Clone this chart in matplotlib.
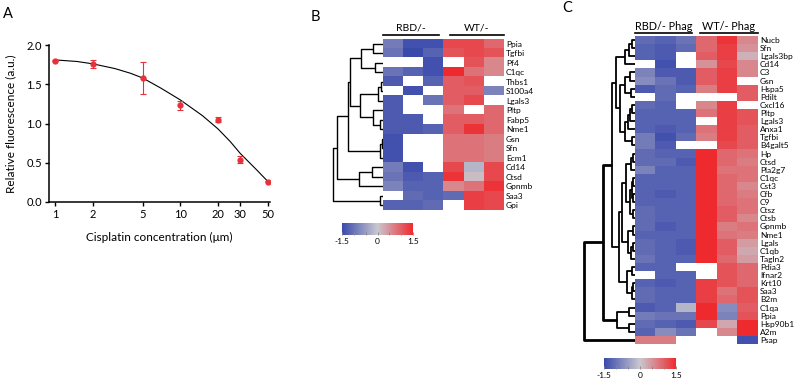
import numpy as np
import matplotlib
matplotlib.use("Agg")
import matplotlib.pyplot as plt
from matplotlib.colors import LinearSegmentedColormap

plt.rcParams["font.family"] = ["Lato", "DejaVu Sans"]

W, H = 794, 380
nan = np.nan

# ---- panel A: dose response ----
conc = [1, 2, 5, 10, 20, 30, 50]
fluor = [1.80, 1.76, 1.58, 1.23, 1.05, 0.54, 0.26]
fluor_err = [0.01, 0.05, 0.20, 0.06, 0.03, 0.04, 0.01]
# fitted curve
fit_x = [1, 1.5, 2, 3, 4, 5, 7, 10, 15, 20, 25, 30, 40, 50]
fit_y = [1.81, 1.79, 1.76, 1.70, 1.64, 1.58, 1.45, 1.30, 1.10, 0.93, 0.77, 0.62, 0.42, 0.26]
conc_ticks = [1, 2, 5, 10, 20, 30, 50]

# ---- panel B heatmap ----
genes_b = ["Ppia", "Tgfbi", "Pf4", "C1qc", "Thbs1", "S100a4", "Lgals3", "Pltp", "Fabp5",
           "Nme1", "Gsn", "Sfn", "Ecm1", "Cd14", "Ctsd", "Gpnmb", "Saa3", "Gpi"]
vals_b = [
    [-0.9, -1.4, -1.4, 1.2, 1.2, 0.9],
    [-1.0, -1.5, -1.2, 1.1, 1.2, 1.1],
    [nan, nan, -1.4, nan, 1.1, 0.6],
    [-1.0, -1.2, -1.4, 1.5, 0.8, 0.6],
    [-1.3, nan, -1.2, 1.0, 1.1, nan],
    [nan, -1.4, nan, 1.0, 1.0, -0.8],
    [-1.3, nan, -1.0, 1.0, 1.2, nan],
    [-1.3, nan, nan, 0.8, nan, 0.9],
    [-1.3, -1.3, nan, 1.0, 1.0, 0.9],
    [-1.3, -1.3, -1.2, 1.0, 1.4, 0.9],
    [-1.4, nan, nan, 0.8, 0.8, 0.7],
    [-1.4, nan, nan, 0.8, 0.8, 0.7],
    [-1.4, nan, nan, 0.8, 0.8, 0.7],
    [-0.9, -1.4, nan, 1.2, -0.2, 1.2],
    [-1.0, -1.3, -1.2, 1.4, 0.1, 1.2],
    [-0.8, -1.2, -1.2, 0.6, 0.8, 1.4],
    [nan, -1.1, -1.2, -1.1, 1.3, 1.2],
    [-1.2, -1.2, -1.1, nan, 1.3, 1.2],
]
# linkage rows: (child a, child b, height); leaves are 0..n-1
tree_b = [
    (0, 1, 0.20), (2, 3, 0.16), (18, 19, 0.44),
    (4, 5, 0.05), (21, 6, 0.10), (8, 9, 0.06), (7, 23, 0.20), (22, 24, 0.46),
    (20, 25, 0.66), (10, 11, 0.03), (27, 12, 0.06), (26, 28, 0.70),
    (13, 14, 0.22), (30, 15, 0.48), (29, 31, 0.92), (16, 17, 0.06), (32, 33, 1.0),
]

# ---- panel C heatmap ----
genes_c = ["Nucb", "Sfn", "Lgals3bp", "Cd14", "C3", "Gsn", "Hspa5", "Pdilt", "Cxcl16",
           "Pltp", "Lgals3", "Anxa1", "Tgfbi", "B4galt5", "Hp", "Ctsd", "Pla2g7", "C1qc",
           "Cst3", "Cfb", "C9", "Ctsz", "Ctsb", "Gpnmb", "Nme1", "Lgals", "C1qb", "Tagln2",
           "Pdia3", "Ifnar2", "Krt10", "Saa3", "B2m", "C1qa", "Ppia", "Hsp90b1", "A2m", "Psap"]
vals_c = [
    [-1.1, -1.2, -1.0, 0.9, 1.4, 0.6],
    [-1.2, -1.3, -1.1, 0.9, 1.3, 0.5],
    [-1.2, -1.3, nan, 1.0, 1.3, 0.2],
    [nan, -1.4, nan, 0.5, 1.2, 0.6],
    [-0.8, -1.3, -1.3, 1.0, 1.3, 0.6],
    [-0.7, -1.0, -1.3, 1.0, 1.3, nan],
    [-1.3, -1.1, -1.2, 0.7, 1.3, 1.0],
    [nan, -1.1, nan, nan, nan, 1.0],
    [-1.1, -1.2, nan, 0.6, 1.3, nan],
    [-1.2, -1.2, -1.2, 0.8, 1.3, 1.1],
    [-1.2, -1.2, -1.2, nan, 1.3, 1.1],
    [-1.2, -1.3, -1.2, 0.8, 1.3, 1.0],
    [-0.9, -1.4, -1.1, 0.7, 1.3, 1.0],
    [-0.9, -1.3, nan, nan, 1.2, 1.0],
    [-1.1, -1.2, -1.2, 1.5, 0.9, 0.8],
    [-1.1, -1.1, -1.3, 1.5, 0.9, 0.7],
    [-0.8, -1.2, -1.2, 1.5, 0.8, 0.8],
    [-1.2, -1.2, -1.2, 1.5, 0.9, 0.8],
    [-1.2, -1.2, -1.2, 1.5, 0.9, 0.6],
    [-1.2, -1.3, -1.2, 1.5, 0.9, 0.7],
    [-1.2, -1.2, -1.2, 1.5, 0.9, 0.8],
    [-1.1, -1.2, -1.2, 1.5, 1.0, 0.8],
    [-1.1, -1.2, -1.2, 1.5, 1.0, 0.6],
    [-1.1, -1.3, -1.2, 1.5, 0.7, 0.8],
    [-1.2, -1.2, -1.2, 1.5, 0.8, 0.7],
    [-1.1, -1.2, -1.3, 1.5, 1.0, 0.4],
    [-1.1, -1.2, -1.3, 1.5, 1.0, 0.3],
    [-1.0, -1.2, -1.2, 1.5, 0.9, 0.4],
    [-1.2, -1.2, nan, nan, 1.1, 0.9],
    [nan, -1.2, -1.2, nan, 1.1, 0.9],
    [-1.2, -1.3, -1.2, 1.3, 1.1, 0.9],
    [-1.1, -1.2, -1.2, 1.3, 0.8, 1.1],
    [-1.1, -1.2, -1.2, 1.3, 0.9, 1.1],
    [-1.3, -1.2, -0.2, 1.5, -0.7, 1.0],
    [-0.9, -1.0, -1.0, 1.5, -0.8, 1.1],
    [-1.1, -1.2, -1.3, 1.2, 0.3, 1.5],
    [-1.2, -0.7, -1.0, nan, 0.6, 1.5],
    [0.7, 0.7, nan, nan, nan, -1.4],
]
tree_c = [
    # Nucb..Cd14 (38-40)
    (0, 1, 0.06), (38, 2, 0.12), (39, 3, 0.20),
    # C3..B4galt5 (41-48)
    (4, 5, 0.10), (6, 7, 0.08), (41, 42, 0.20),
    (8, 9, 0.06), (44, 10, 0.10), (45, 11, 0.14), (12, 13, 0.06), (46, 47, 0.20),
    (43, 48, 0.30),                                   # 49
    (40, 49, 0.38),                                   # 50
    # Hp..B2m (51-)
    (14, 15, 0.04), (51, 16, 0.08),                   # 51, 52
    (17, 18, 0.03), (19, 20, 0.03), (53, 54, 0.06),   # 53, 54, 55
    (21, 22, 0.03), (55, 56, 0.10),                   # 56, 57
    (52, 57, 0.18),                                   # 58
    (23, 24, 0.04), (25, 26, 0.04), (60, 27, 0.08), (59, 61, 0.14),  # 59-62
    (58, 62, 0.25),                                   # 63
    (28, 29, 0.05), (30, 31, 0.04), (65, 32, 0.06), (64, 66, 0.16),  # 64-67
    (63, 67, 0.32),                                   # 68
    (50, 68, 0.45),                                   # 69
    (33, 34, 0.12), (35, 36, 0.12), (70, 71, 0.35),   # 70-72
    (69, 72, 0.63),                                   # 73
    (73, 37, 1.0),                                    # 74
]

cmap = LinearSegmentedColormap.from_list("bgr", ["#3a4aab", "#c9c7cf", "#ef2a2e"])
cmap.set_bad("white")

fig = plt.figure(figsize=(W / 100, H / 100), dpi=100)


def px_axes(x0, y0, x1, y1):
    return fig.add_axes([x0 / W, 1 - y1 / H, (x1 - x0) / W, (y1 - y0) / H])


def draw_tree(ax, tree, n, lw, root_lw):
    pos = {i: (0.0, float(i)) for i in range(n)}
    for k, (a, b, h) in enumerate(tree):
        ha, ya = pos[a]
        hb, yb = pos[b]
        w = root_lw if k >= len(tree) - 2 else lw
        ax.plot([ha, h, h, hb], [ya, ya, yb, yb], color="black", lw=w,
                solid_capstyle="butt", clip_on=False)
        pos[n + k] = (h, (ya + yb) / 2)
    ax.set_xlim(1.0, 0)
    ax.set_ylim(n - 0.5, -0.5)
    ax.axis("off")


def draw_heat(ax, vals, genes, fs):
    im = ax.imshow(np.array(vals), cmap=cmap, vmin=-1.5, vmax=1.5, aspect="auto",
                   interpolation="nearest")
    ax.set_xticks([])
    ax.set_yticks(range(len(genes)))
    ax.set_yticklabels(genes, fontsize=fs)
    ax.yaxis.tick_right()
    ax.tick_params(axis="y", length=0, pad=1.5)
    for s in ax.spines.values():
        s.set_visible(False)
    return im


def draw_header(ax, labels, spans, line_y, text_y, fs):
    tr = ax.get_xaxis_transform()
    for lab, (x0, x1) in zip(labels, spans):
        ax.plot([x0, x1], [line_y, line_y], color="black", lw=1.2, transform=tr,
                clip_on=False)
        ax.text((x0 + x1) / 2, text_y, lab, transform=tr, ha="center", va="center",
                fontsize=fs)


def draw_cbar(im, box):
    cax = px_axes(*box)
    cb = fig.colorbar(im, cax=cax, orientation="horizontal", ticks=[-1.5, -1, -0.5, 0, 0.5, 1, 1.5])
    cb.set_ticklabels(["-1.5", "", "", "0", "", "", "1.5"])
    cb.outline.set_visible(False)
    cax.tick_params(labelsize=6, length=2, width=0.6, direction="in", colors="#888888",
                    labelcolor="black", pad=2)


# ---- A ----
ax = px_axes(49, 45, 270, 202)
ax.plot(fit_x, fit_y, color="black", lw=0.8)
ax.errorbar(conc, fluor, yerr=fluor_err, fmt="o", color="#e8303a", ms=3.5,
            elinewidth=0.8, capsize=2, capthick=0.8)
ax.set_xscale("log")
ax.set_xlim(0.895, 51.9)
ax.set_ylim(0, 2.0)
ax.set_xticks(conc_ticks)
ax.set_xticklabels([str(c) for c in conc_ticks])
ax.xaxis.set_minor_locator(matplotlib.ticker.NullLocator())
ax.set_yticks([0, 0.5, 1.0, 1.5, 2.0])
ax.set_yticklabels(["0.0", "0.5", "1.0", "1.5", "2.0"])
ax.tick_params(labelsize=8, length=3, width=1, pad=2)
for s in ["top", "right"]:
    ax.spines[s].set_visible(False)
for s in ["left", "bottom"]:
    ax.spines[s].set_linewidth(1.1)
ax.set_ylabel("Relative fluorescence (a.u.)", fontsize=8.5, labelpad=7)
ax.set_xlabel("Cisplatin concentration (\u03bcm)", fontsize=8.5, labelpad=9)

# ---- B ----
ax_db = px_axes(333, 39, 383, 210)
draw_tree(ax_db, tree_b, len(genes_b), 1.0, 1.0)
ax_hb = px_axes(383, 39, 504, 210)
im_b = draw_heat(ax_hb, vals_b, genes_b, 6)
draw_header(ax_hb, ["RBD/-", "WT/-"], [(-0.5, 2.3), (2.8, 5.5)], 1 + 4 / 171, 1 + 11 / 171, 7.5)
draw_cbar(im_b, (342, 223, 413, 235))

# ---- C ----
ax_dc = px_axes(584, 36, 635, 344)
draw_tree(ax_dc, tree_c, len(genes_c), 1.3, 2.0)
ax_hc = px_axes(635, 36, 758, 344)
im_c = draw_heat(ax_hc, vals_c, genes_c, 6)
draw_header(ax_hc, ["RBD/- Phag", "WT/- Phag"], [(-0.5, 2.3), (2.65, 5.5)],
            1 + 3 / 308, 1 + 10 / 308, 7.8)
draw_cbar(im_c, (604, 358, 676, 369))

for lab, x, y in [("A", 3, 14), ("B", 311, 17), ("C", 562, 8)]:
    fig.text(x / W, 1 - y / H, lab, fontsize=10.5, va="center", ha="left")

fig.savefig("out.png", dpi=100)
